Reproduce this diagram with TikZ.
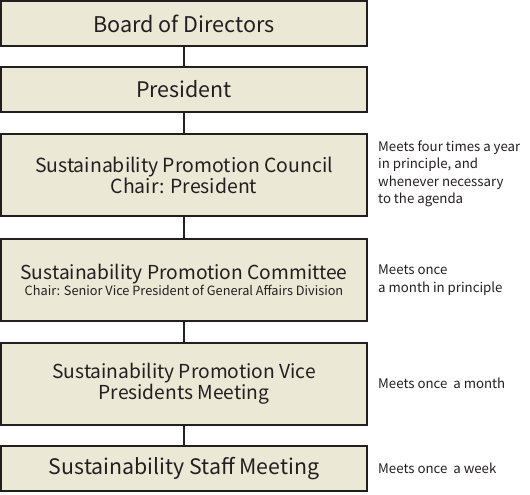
\documentclass[tikz,border=0pt]{standalone}
\usepackage{fontspec}
\setmainfont{Noto Sans CJK JP}
\definecolor{boxfill}{RGB}{235,232,214}
\definecolor{boxline}{RGB}{35,31,32}
\definecolor{txt}{RGB}{35,31,32}
\begin{document}
\begin{tikzpicture}[x=1bp,y=-1bp,
  orgbox/.style={draw=boxline,fill=boxfill,line width=2bp,minimum width=366bp,inner sep=0pt,text=txt,align=center},
  link/.style={draw=boxline,line width=2.6bp},
  note/.style={anchor=west,align=left,text=txt,font=\fontsize{13.3}{17.5}\selectfont,inner sep=0pt}]
\useasboundingbox (0,0) rectangle (530,495);
\node[orgbox,minimum height=44.5bp,font=\fontsize{21.7}{26}\selectfont] (b1) at (184,23.75) {Board of Directors};
\node[orgbox,minimum height=45bp,font=\fontsize{21.5}{26}\selectfont] (b2) at (184,89.5) {President};
\node[orgbox,minimum height=82bp] (b3) at (184,175) {\fontsize{19.5}{23}\selectfont Sustainability Promotion Council\\\fontsize{19.5}{23}\selectfont Chair: President};
\node[orgbox,minimum height=82bp] (b4) at (184,280) {\fontsize{19.3}{20}\selectfont Sustainability Promotion Committee\\\fontsize{12.8}{15}\selectfont Chair: Senior Vice President of General Affairs Division};
\node[orgbox,minimum height=82bp] (b5) at (184,383.5) {\fontsize{19.3}{23}\selectfont Sustainability Promotion Vice\\\fontsize{19.3}{23}\selectfont Presidents Meeting};
\node[orgbox,minimum height=45bp,font=\fontsize{21.4}{23}\selectfont] (b6) at (184,468.5) {Sustainability Staff Meeting};
\draw[link] (b1) -- (b2);
\draw[link] (b2) -- (b3);
\draw[link] (b3) -- (b4);
\draw[link] (b4) -- (b5);
\draw[link] (b5) -- (b6);
\node[note] (n3) at (378,174) {Meets four times a year\\in principle, and\\whenever necessary\\to the agenda};
\node[note] (n4) at (378,280) {Meets once\\a month in principle};
\node[note] (n5) at (378,383) {Meets once\ \ a month};
\node[note] (n6) at (378,468) {Meets once\ \ a week};
\end{tikzpicture}
\end{document}
